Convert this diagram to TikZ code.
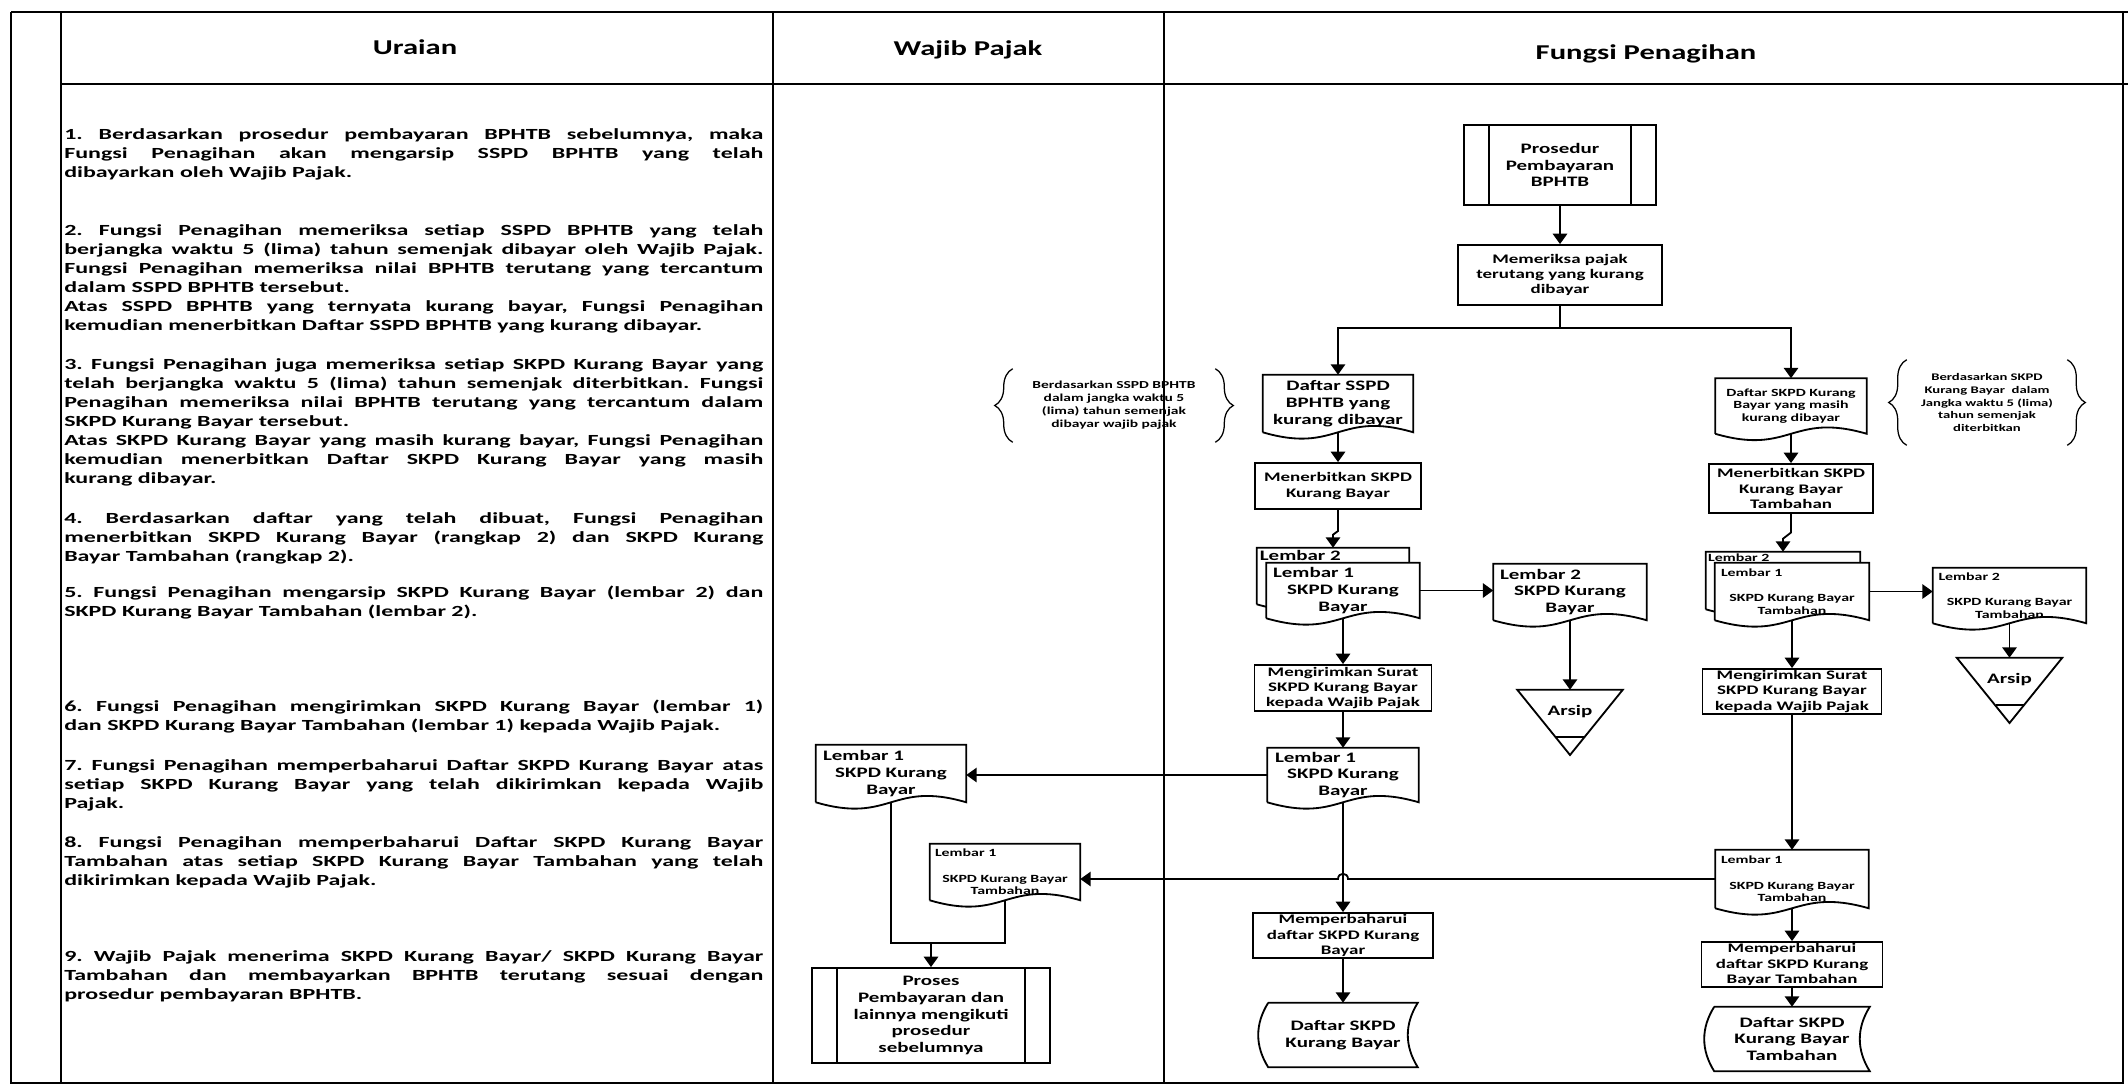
\documentclass[tikz,border=0pt]{standalone}
\usepackage{fontspec}
\setmainfont{Carlito}[FakeStretch=1.45]
\newfontfamily\uraianfont{Carlito}[FakeStretch=1.55]
\setlength{\parindent}{0pt}
\usepackage{tikz}
\usetikzlibrary{arrows.meta, calc, decorations.pathreplacing}
\pgfdeclarelayer{background}
\pgfsetlayers{background,main}

\begin{document}
\begin{tikzpicture}[x=0.25mm, y=-0.25mm,
    garis/.style={line width=1.3pt},
    panah/.style={line width=1.3pt, -{Triangle[length=2.6mm, width=3.6mm]}},
    judul/.style={font=\fontsize{15}{18}\selectfont\bfseries},
    uraian/.style={anchor=north west, inner sep=0pt, text width=174.75mm, align=justify, font=\uraianfont\fontsize{11}{13.5}\selectfont\bfseries\frenchspacing},
    kotak/.style={draw, line width=1.3pt, align=center, inner sep=0pt, font=\fontsize{9.3}{10.8}\selectfont\bfseries},
    dok/.style={align=center, inner sep=0pt, font=\fontsize{10.3}{12}\selectfont\bfseries},
    dokkecil/.style={dok, font=\fontsize{7.8}{9}\selectfont\bfseries},
    proses/.style={draw, line width=1.3pt, align=center, inner sep=0pt, font=\fontsize{10.3}{12}\selectfont\bfseries,
      path picture={\draw[line width=1.3pt] ($(path picture bounding box.north west)+(25,0)$) -- ($(path picture bounding box.south west)+(25,0)$)
        ($(path picture bounding box.north east)+(-25,0)$) -- ($(path picture bounding box.south east)+(-25,0)$);}},
    simpan/.style={dok},
    arsip/.style={dok, minimum width=26.25mm, minimum height=11mm},
    catatan/.style={align=center, inner sep=0pt, font=\fontsize{7.6}{9.2}\selectfont\bfseries},
    kurung/.style={decorate, decoration={brace, amplitude=4.5mm}, line width=0.9pt}
  ]
  \useasboundingbox (0,0) rectangle (2128,1089);

  \draw[line width=2pt] (11,12) -- (2128,12);
  \draw[line width=2pt] (61,84) -- (2128,84);
  \draw[garis] (11,12) -- (11,1083) -- (2123,1083) -- (2123,12);
  \draw[garis] (61,12) -- (61,1083) (773,12) -- (773,1083) (1164,12) -- (1164,1083);

  \node[judul] (hUraian) at (415,47) {Uraian};
  \node[judul] (hWajib) at (968,50) {Wajib Pajak};
  \node[judul] (hFungsi) at (1646,54) {Fungsi Penagihan};

  \node[uraian] (u1) at (64,128) {1. Berdasarkan prosedur pembayaran BPHTB sebelumnya, maka\linebreak Fungsi Penagihan akan mengarsip SSPD BPHTB yang telah\linebreak dibayarkan oleh Wajib Pajak.};
  \node[uraian] (u2) at (64,224) {2. Fungsi Penagihan memeriksa setiap SSPD BPHTB yang telah\linebreak berjangka waktu 5 (lima) tahun semenjak dibayar oleh Wajib Pajak.\linebreak Fungsi Penagihan memeriksa nilai BPHTB terutang yang tercantum\linebreak dalam SSPD BPHTB tersebut.\\ Atas SSPD BPHTB yang ternyata kurang bayar, Fungsi Penagihan\linebreak kemudian menerbitkan Daftar SSPD BPHTB yang kurang dibayar.};
  \node[uraian] (u3) at (64,358) {3. Fungsi Penagihan juga memeriksa setiap SKPD Kurang Bayar yang\linebreak telah berjangka waktu 5 (lima) tahun semenjak diterbitkan. Fungsi\linebreak Penagihan memeriksa nilai BPHTB terutang yang tercantum dalam\linebreak SKPD Kurang Bayar tersebut.\\ Atas SKPD Kurang Bayar yang masih kurang bayar, Fungsi Penagihan\linebreak kemudian menerbitkan Daftar SKPD Kurang Bayar yang masih\linebreak kurang dibayar.};
  \node[uraian] (u4) at (64,512) {4. Berdasarkan daftar yang telah dibuat, Fungsi Penagihan\linebreak menerbitkan SKPD Kurang Bayar (rangkap 2) dan SKPD Kurang\linebreak Bayar Tambahan (rangkap 2).};
  \node[uraian] (u5) at (64,586) {5. Fungsi Penagihan mengarsip SKPD Kurang Bayar (lembar 2) dan\linebreak SKPD Kurang Bayar Tambahan (lembar 2).};
  \node[uraian] (u6) at (64,700) {6. Fungsi Penagihan mengirimkan SKPD Kurang Bayar (lembar 1)\linebreak dan SKPD Kurang Bayar Tambahan (lembar 1) kepada Wajib Pajak.};
  \node[uraian] (u7) at (64,759) {7. Fungsi Penagihan memperbaharui Daftar SKPD Kurang Bayar atas\linebreak setiap SKPD Kurang Bayar yang telah dikirimkan kepada Wajib\linebreak Pajak.};
  \node[uraian] (u8) at (64,836) {8. Fungsi Penagihan memperbaharui Daftar SKPD Kurang Bayar\linebreak Tambahan atas setiap SKPD Kurang Bayar Tambahan yang telah\linebreak dikirimkan kepada Wajib Pajak.};
  \node[uraian] (u9) at (64,950) {9. Wajib Pajak menerima SKPD Kurang Bayar/ SKPD Kurang Bayar\linebreak Tambahan dan membayarkan BPHTB terutang sesuai dengan\linebreak prosedur pembayaran BPHTB.};

  \node[proses, minimum width=48mm, minimum height=20mm] (prosedur) at (1560,165) {Prosedur\\Pembayaran\\BPHTB};
  \node[kotak, minimum width=51mm, minimum height=15mm] (periksa) at (1560,275) {Memeriksa pajak\\terutang yang kurang\\dibayar};
  \coordinate (cabang) at (1560,328);

  \node[dok, minimum width=37.5mm, minimum height=14.25mm] (daftarSSPD) at (1338,403.5) {Daftar SSPD\\BPHTB yang\\kurang dibayar};
  \node[catatan, minimum width=50.5mm, minimum height=18.25mm] (ketSSPD) at (1114,405.5) {Berdasarkan SSPD BPHTB\\dalam jangka waktu 5\\(lima) tahun semenjak\\dibayar wajib pajak};
  \node[kotak, minimum width=41.5mm, minimum height=11.5mm] (terbitKB) at (1338,486) {Menerbitkan SKPD\\Kurang Bayar};
  \node[dok, minimum width=38mm, minimum height=14mm, label={[dok, anchor=north west, inner sep=2pt]north west:Lembar 2}] (rangkapKB2) at (1333,576) {};
  \node[dok, minimum width=38.25mm, minimum height=13.75mm] (rangkapKB1) at (1343,590.5) {\makebox[35mm][l]{Lembar 1}\\SKPD Kurang\\Bayar};
  \node[dok, minimum width=38.25mm, minimum height=14mm] (lembarKB2) at (1570,592) {\makebox[35mm][l]{Lembar 2}\\SKPD Kurang\\Bayar};
  \node[arsip] (arsipKB) at (1570,712) {Arsip};
  \node[kotak, minimum width=44.25mm, minimum height=11.5mm] (kirimKB) at (1343,688) {Mengirimkan Surat\\SKPD Kurang Bayar\\kepada Wajib Pajak};
  \node[dok, minimum width=37.75mm, minimum height=13.5mm] (lembarKB1) at (1343,775) {\makebox[34mm][l]{Lembar 1}\\SKPD Kurang\\Bayar};
  \node[kotak, minimum width=45mm, minimum height=11.25mm] (perbaruiKB) at (1343,935.5) {Memperbaharui\\daftar SKPD Kurang\\Bayar};
  \node[simpan, minimum width=37.25mm, minimum height=16mm] (simpanKB) at (1343,1035) {Daftar SKPD\\Kurang Bayar};

  \node[dokkecil, minimum width=37.75mm, minimum height=13.75mm] (daftarSKPD) at (1791,406) {Daftar SKPD Kurang\\Bayar yang masih\\kurang dibayar};
  \node[catatan, minimum width=40mm, minimum height=21.25mm, font=\fontsize{7.2}{9.2}\selectfont\bfseries] (ketSKPD) at (1987,402.5) {Berdasarkan SKPD\\Kurang Bayar~ dalam\\Jangka waktu 5 (lima)\\tahun semenjak\\diterbitkan};
  \node[kotak, minimum width=41mm, minimum height=12.25mm] (terbitKBT) at (1791,488.5) {Menerbitkan SKPD\\Kurang Bayar\\Tambahan};
  \node[dokkecil, minimum width=38.5mm, minimum height=14.25mm, label={[dokkecil, anchor=north west, inner sep=1.5pt]north west:Lembar 2}] (rangkapKBT2) at (1783,580.5) {};
  \node[dokkecil, minimum width=38.5mm, minimum height=14.25mm] (rangkapKBT1) at (1792,591.5) {\makebox[35.5mm][l]{Lembar 1}\\[9pt]SKPD Kurang Bayar\\Tambahan};
  \node[dokkecil, minimum width=38.25mm, minimum height=13.75mm] (lembarKBT2) at (2009.5,595.5) {\makebox[35.5mm][l]{Lembar 2}\\[9pt]SKPD Kurang Bayar\\Tambahan};
  \node[arsip] (arsipKBT) at (2009.5,680) {Arsip};
  \node[kotak, minimum width=44.75mm, minimum height=11.25mm] (kirimKBT) at (1792,691.5) {Mengirimkan Surat\\SKPD Kurang Bayar\\kepada Wajib Pajak};
  \node[dokkecil, minimum width=38.25mm, minimum height=14.5mm] (lembarKBT1) at (1792,879) {\makebox[35.5mm][l]{Lembar 1}\\[9pt]SKPD Kurang Bayar\\Tambahan};
  \node[kotak, minimum width=45.25mm, minimum height=11.25mm] (perbaruiKBT) at (1792,964.5) {Memperbaharui\\daftar SKPD Kurang\\Bayar Tambahan};
  \node[simpan, minimum width=38.75mm, minimum height=16mm] (simpanKBT) at (1792,1039) {Daftar SKPD\\Kurang Bayar\\Tambahan};

  \node[dok, minimum width=37.5mm, minimum height=14.25mm] (wpKB) at (891,773.5) {\makebox[34mm][l]{Lembar 1}\\SKPD Kurang\\Bayar};
  \node[dokkecil, minimum width=37.5mm, minimum height=14mm] (wpKBT) at (1005,872) {\makebox[35mm][l]{Lembar 1}\\[9pt]SKPD Kurang Bayar\\Tambahan};
  \node[proses, minimum width=59.5mm, minimum height=23.75mm] (prosesWP) at (931,1015.5) {Proses\\Pembayaran dan\\lainnya mengikuti\\prosedur\\sebelumnya};
  \coordinate (gabung) at (931,943);

  \begin{pgfonlayer}{background}
    \foreach \nm in {daftarSSPD, daftarSKPD, rangkapKB2, rangkapKB1, rangkapKBT2, rangkapKBT1, lembarKB2, lembarKBT2, lembarKB1, lembarKBT1, wpKB, wpKBT}
      \draw[garis, fill=white] (\nm.south west) -- (\nm.north west) -- (\nm.north east) -- (\nm.south east)
        .. controls ($(\nm.south)+(0,-22)$) and ($(\nm.south)+(0,22)$) .. (\nm.south west);
  \end{pgfonlayer}
  \foreach \nm in {simpanKB, simpanKBT}
    \draw[garis] (\nm.north west) -- (\nm.north east) to[bend right=32] (\nm.south east) -- (\nm.south west) to[bend left=32] (\nm.north west);
  \foreach \nm in {arsipKB, arsipKBT} {
    \draw[garis] (\nm.north west) -- (\nm.north east) -- ($(\nm.center)+(0,43)$) -- cycle;
    \draw[garis] ($(\nm.center)+(-14,25)$) -- ($(\nm.center)+(14,25)$);
  }
  \draw[kurung] (ketSSPD.south west) -- (ketSSPD.north west);
  \draw[kurung] (ketSSPD.north east) -- (ketSSPD.south east);
  \draw[kurung] (ketSKPD.south west) -- (ketSKPD.north west);
  \draw[kurung] (ketSKPD.north east) -- (ketSKPD.south east);

  \draw[panah] (prosedur) -- (periksa);
  \draw[garis] (periksa) -- (cabang);
  \draw[panah] (cabang) -| (daftarSSPD);
  \draw[panah] (cabang) -| (daftarSKPD);

  \draw[panah] (daftarSSPD) -- (terbitKB);
  \draw[panah] (terbitKB) -- ++(0,45) -- ($(rangkapKB2.north)+(0,-13)$) -- (rangkapKB2);
  \draw[panah] (rangkapKB1.east) -- (rangkapKB1.east -| lembarKB2.west);
  \draw[panah] (lembarKB2) -- (arsipKB);
  \draw[panah] (rangkapKB1) -- (kirimKB);
  \draw[panah] (kirimKB) -- (lembarKB1);
  \draw[panah] (lembarKB1.west) -- (lembarKB1.west -| wpKB.east);
  \draw[panah] (lembarKB1) -- (perbaruiKB);
  \draw[panah] (perbaruiKB) -- (simpanKB);

  \draw[panah] (daftarSKPD) -- (terbitKBT);
  \draw[panah] (terbitKBT) -- ++(0,44) -- ($(rangkapKBT2.north)+(0,-13)$) -- (rangkapKBT2);
  \draw[panah] (rangkapKBT1.east) -- (rangkapKBT1.east -| lembarKBT2.west);
  \draw[panah] (lembarKBT2) -- (arsipKBT);
  \draw[panah] (rangkapKBT1) -- (kirimKBT);
  \draw[panah] (kirimKBT) -- (lembarKBT1);
  \coordinate (lompat) at (lembarKBT1.west -| lembarKB1.south);
  \draw[panah] (lembarKBT1.west) -- ($(lompat)+(5,0)$) .. controls +(0,-7) and +(0,-7) .. ($(lompat)+(-5,0)$) -- (lembarKBT1.west -| wpKBT.east);
  \draw[panah] (lembarKBT1) -- (perbaruiKBT);
  \draw[panah] (perbaruiKBT) -- (simpanKBT);

  \draw[garis] (wpKB) |- (gabung);
  \draw[garis] (wpKBT) |- (gabung);
  \draw[panah] (gabung) -- (prosesWP);
\end{tikzpicture}
\end{document}
